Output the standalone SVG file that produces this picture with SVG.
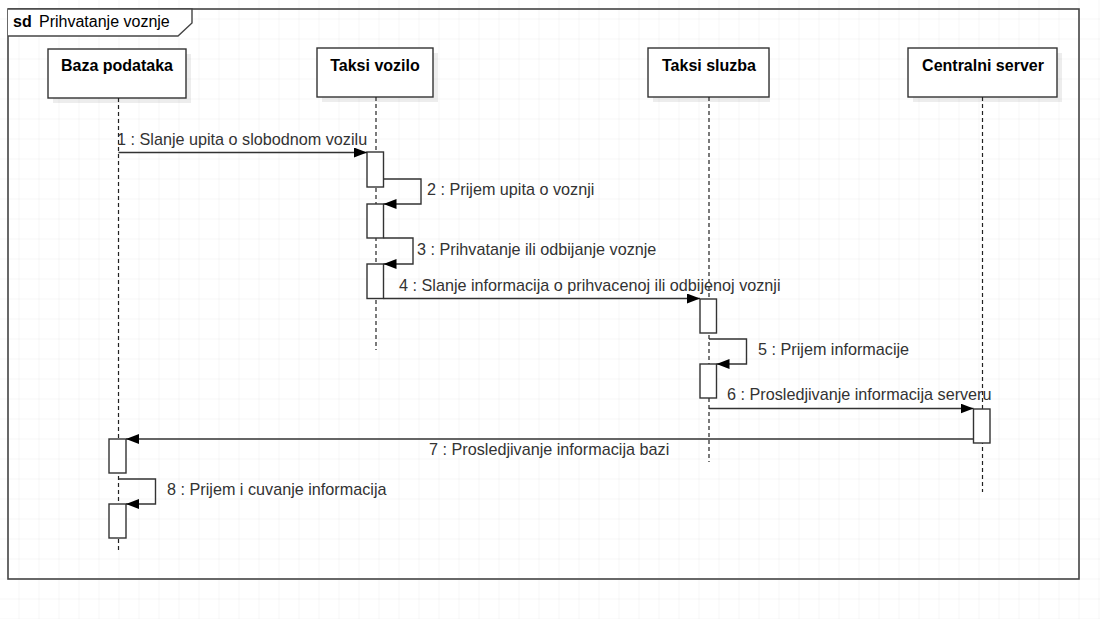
<svg xmlns="http://www.w3.org/2000/svg" width="1100" height="619" viewBox="0 0 1100 619">
  <defs>
    <pattern id="grid" x="-0.5" y="-0.5" width="20" height="20" patternUnits="userSpaceOnUse">
      <path d="M20,0 V20 M0,20 H20" fill="none" stroke="#ececec" stroke-width="1"/>
    </pattern>
    <marker id="arrow" markerWidth="14" markerHeight="11" refX="13" refY="5" orient="auto" markerUnits="userSpaceOnUse">
      <path d="M0,0 L13,5 L0,10 z" fill="#000"/>
    </marker>
    <style>
      .head { fill: #fff; stroke: #333; stroke-width: 1.4; }
      .shadow { fill: #000; opacity: 0.07; }
      .htext { font-family: "Liberation Sans", Arial, sans-serif; font-size: 16px; font-weight: bold; fill: #000; text-anchor: middle; }
      .life { stroke: #222; stroke-width: 1.2; stroke-dasharray: 4 3; fill: none; }
      .act { fill: #fff; stroke: #333; stroke-width: 1.4; }
      .msg { fill: none; stroke: #333; stroke-width: 1.4; marker-end: url(#arrow); }
      .label { font-family: "Liberation Sans", Arial, sans-serif; font-size: 16.2px; fill: #333; }
      .frame { fill: none; stroke: #444; stroke-width: 1.6; }
    </style>
  </defs>
  <rect width="1100" height="619" fill="#fff"/>
  <rect width="1100" height="619" fill="url(#grid)"/>

  <g id="frame">
    <rect class="frame" x="8" y="9" width="1071" height="570"/>
    <path d="M8,9 H192 V23 L178,36 H8" fill="#fff" stroke="#444" stroke-width="1.4"/>
    <text x="13" y="27" font-family="Liberation Sans, Arial, sans-serif" font-size="16" font-weight="bold" fill="#000">sd</text>
    <text x="39" y="27" font-family="Liberation Sans, Arial, sans-serif" font-size="16" fill="#000">Prihvatanje voznje</text>
  </g>

  <g id="baza-podataka">
    <rect class="shadow" x="53" y="54" width="138" height="49"/>
    <rect class="head" x="48" y="49" width="138" height="49"/>
    <text class="htext" x="117" y="71">Baza podataka</text>
    <line class="life" x1="118.5" y1="98" x2="118.5" y2="552"/>
    <rect class="act" x="109" y="439" width="17" height="34"/>
    <rect class="act" x="109" y="504" width="17" height="34"/>
  </g>

  <g id="taksi-vozilo">
    <rect class="shadow" x="322" y="53" width="116" height="49"/>
    <rect class="head" x="317" y="48" width="116" height="49"/>
    <text class="htext" x="375" y="71">Taksi vozilo</text>
    <line class="life" x1="376" y1="97" x2="376" y2="350"/>
    <rect class="act" x="367" y="152" width="16.5" height="35"/>
    <rect class="act" x="367" y="204" width="16.5" height="34"/>
    <rect class="act" x="367" y="264" width="16.5" height="34.5"/>
  </g>

  <g id="taksi-sluzba">
    <rect class="shadow" x="653" y="53" width="117" height="49"/>
    <rect class="head" x="648" y="48" width="121" height="49"/>
    <text class="htext" x="709" y="71">Taksi sluzba</text>
    <line class="life" x1="709" y1="97" x2="709" y2="462"/>
    <rect class="act" x="700" y="299" width="16.5" height="34"/>
    <rect class="act" x="700" y="364" width="16.5" height="34"/>
  </g>

  <g id="centralni-server">
    <rect class="shadow" x="913" y="53" width="149" height="49"/>
    <rect class="head" x="908" y="48" width="149" height="49"/>
    <text class="htext" x="983" y="71">Centralni server</text>
    <line class="life" x1="982.5" y1="97" x2="982.5" y2="492"/>
    <rect class="act" x="973.5" y="409" width="16.5" height="34"/>
  </g>

  <g id="connectors">
    <path class="msg" d="M118.5,152.5 H367"/>
    <text class="label" x="117" y="145">1 : Slanje upita o slobodnom vozilu</text>

    <path class="msg" d="M383.5,179 H421 V204 H383.5"/>
    <text class="label" x="427" y="195">2 : Prijem upita o voznji</text>

    <path class="msg" d="M383.5,238 H413 V264 H383.5"/>
    <text class="label" x="417" y="255">3 : Prihvatanje ili odbijanje voznje</text>

    <path class="msg" d="M383.5,298.5 H700"/>
    <text class="label" x="399" y="291">4 : Slanje informacija o prihvacenoj ili odbijenoj voznji</text>

    <path class="msg" d="M709,339 H746.5 V364 H716.5"/>
    <text class="label" x="758" y="355">5 : Prijem informacije</text>

    <path class="msg" d="M709,408.5 H973.5"/>
    <text class="label" x="727" y="400">6 : Prosledjivanje informacija serveru</text>

    <path class="msg" d="M973.5,439 H126"/>
    <text class="label" x="429" y="455">7 : Prosledjivanje informacija bazi</text>

    <path class="msg" d="M118.5,479 H155.5 V504 H126"/>
    <text class="label" x="167" y="495">8 : Prijem i cuvanje informacija</text>
  </g>
</svg>
